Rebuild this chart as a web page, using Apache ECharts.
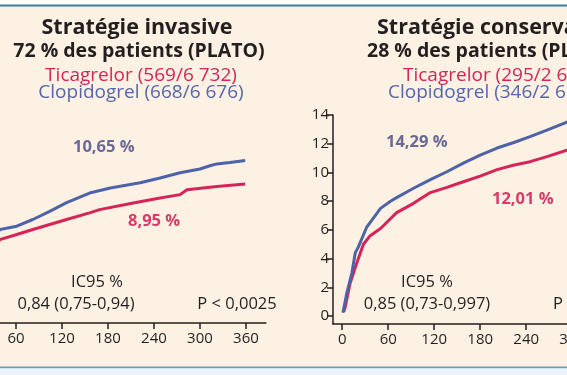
<!DOCTYPE html>
<html>
<head>
<meta charset="utf-8">
<script src="https://cdn.jsdelivr.net/npm/echarts@6/dist/echarts.min.js"></script>
<style>
html,body{margin:0;padding:0;background:#ffffff;}
#c{width:567px;height:375px;}
</style>
</head>
<body>
<div id="c"></div>
<script>
// ---- data ----
const xTicks = [0, 60, 120, 180, 240, 300, 360];
const yTicks = [0, 2, 4, 6, 8, 10, 12, 14];

// Invasive strategy (left panel)
const invClopDays = [0, 3, 7, 14, 21, 30, 39, 61, 82, 104, 126, 156, 183, 222, 248, 274, 300, 313, 322, 339, 359];
const invClopVals = [0, 1.3, 2.5, 3.7, 4.5, 5.3, 5.99, 6.22, 6.69, 7.26, 7.87, 8.54, 8.89, 9.26, 9.59, 9.96, 10.22, 10.45, 10.58, 10.68, 10.81];
const invTicaDays = [0, 3, 7, 14, 21, 30, 39, 61, 82, 104, 126, 156, 169, 213, 248, 274, 283, 322, 359];
const invTicaVals = [0, 1.1, 2.1, 3.1, 3.8, 4.6, 5.29, 5.64, 5.99, 6.34, 6.69, 7.15, 7.38, 7.85, 8.2, 8.43, 8.77, 9.0, 9.17];

// Conservative strategy (right panel)
const conClopDays = [1, 6, 12.6, 17, 21, 32, 50, 63, 71, 93, 115, 136.5, 158, 180, 202, 223, 245, 267, 293, 330, 360];
const conClopVals = [0.23, 1.6, 3.0, 4.4, 4.8, 6.2, 7.5, 8.0, 8.25, 8.9, 9.5, 10.05, 10.65, 11.2, 11.7, 12.07, 12.5, 12.95, 13.5, 13.9, 14.29];
const conTicaDays = [2, 4, 10.4, 19, 21, 27.7, 36.5, 50, 71, 93, 115, 136.5, 158, 180, 202, 223, 245, 267, 293, 330, 360];
const conTicaVals = [0.3, 0.65, 2.3, 3.7, 4.0, 5.0, 5.6, 6.1, 7.2, 7.85, 8.6, 8.96, 9.35, 9.75, 10.2, 10.5, 10.75, 11.1, 11.55, 11.8, 12.01];

// texts
const leftTitle = ['Stratégie invasive', '72 % des patients (PLATO)'];
const leftLegend = ['Ticagrelor (569/6 732)', 'Clopidogrel (668/6 676)'];
const rightTitle = ['Stratégie conservatrice', '28 % des patients (PLATO)'];
const rightLegend = ['Ticagrelor (295/2 601)', 'Clopidogrel (346/2 615)'];
const leftEnd = ['10,65 %', '8,95 %'];
const rightEnd = ['14,29 %', '12,01 %'];
const leftStats = ['IC95 %', '0,84 (0,75-0,94)', 'P < 0,0025'];
const rightStats = ['IC95 %', '0,85 (0,73-0,997)', 'P = 0,04'];

// ---- styles ----
const RED = '#d6245a';
const BLUE = '#4e62a8';
const DARK = '#231f20';
const FONT = '"Open Sans", "Noto Sans", sans-serif';

function pairs(d, v) { return d.map((x, i) => [x, v[i]]); }

function txt(x, y, text, size, color, weight, align) {
  return {
    type: 'text', x: x, y: y, z: 10,
    style: {
      text: text, fill: color,
      font: (weight || 'normal') + ' ' + size + 'px ' + FONT,
      textAlign: align || 'center', textVerticalAlign: 'middle',
      align: align || 'center', verticalAlign: 'middle'
    }
  };
}

function xAxisFor(gi, max) {
  return {
    type: 'value', gridIndex: gi, min: -12, max: max,
    axisLine: { show: true, onZero: false, lineStyle: { color: DARK, width: 1.5 } },
    axisTick: { show: true, customValues: xTicks, length: 6, lineStyle: { color: DARK, width: 1.5 } },
    axisLabel: { customValues: xTicks, color: DARK, fontSize: 15, fontFamily: FONT, margin: 8 },
    splitLine: { show: false }
  };
}
function yAxisFor(gi, show) {
  return {
    type: 'value', gridIndex: gi, min: -0.55, max: 14, show: show,
    axisLine: { show: true, onZero: false, lineStyle: { color: DARK, width: 1.5 } },
    axisTick: { show: true, customValues: yTicks, length: 6, lineStyle: { color: DARK, width: 1.5 } },
    axisLabel: { customValues: yTicks, color: DARK, fontSize: 15, fontFamily: FONT, margin: 4 },
    splitLine: { show: false }
  };
}
function lineSeries(xi, data, color) {
  return {
    type: 'line', xAxisIndex: xi, yAxisIndex: xi, data: data,
    showSymbol: false, symbol: 'none', smooth: false, silent: true,
    lineStyle: { color: color, width: 3 }
  };
}

const chart = echarts.init(document.getElementById('c'), null, { renderer: 'canvas' });
chart.setOption({
  animation: false,
  backgroundColor: '#ffffff',
  grid: [
    { left: -39.2, right: 301.1, top: 115, height: 208, outerBoundsMode: 'none', containLabel: false },
    { left: 333, right: -81.9, top: 115, height: 209, outerBoundsMode: 'none', containLabel: false }
  ],
  xAxis: [xAxisFor(0, 386), xAxisFor(1, 400)],
  yAxis: [yAxisFor(0, false), yAxisFor(1, true)],
  series: [
    lineSeries(0, pairs(invTicaDays, invTicaVals), RED),
    lineSeries(0, pairs(invClopDays, invClopVals), BLUE),
    lineSeries(1, pairs(conTicaDays, conTicaVals), RED),
    lineSeries(1, pairs(conClopDays, conClopVals), BLUE)
  ],
  graphic: [
    { type: 'rect', z: -10, shape: { x: 0, y: 6, width: 567, height: 361 }, style: { fill: '#fcf1e3' } },
    { type: 'rect', z: -5, shape: { x: 0, y: 4.5, width: 567, height: 2 }, style: { fill: '#3e7f96' } },
    { type: 'rect', z: -5, shape: { x: 0, y: 366.5, width: 567, height: 2 }, style: { fill: '#6c9ec0' } },
    { type: 'rect', z: -5, shape: { x: 0, y: 368.5, width: 567, height: 7 }, style: { fill: '#eaf3f9' } },

    txt(137, 28, leftTitle[0], 21.5, DARK, 'bold'),
    txt(139, 51, leftTitle[1], 19.5, DARK, 'bold'),
    txt(141, 76, leftLegend[0], 19, RED),
    txt(141, 93, leftLegend[1], 19, '#5566a8'),

    txt(377, 28, rightTitle[0], 21.5, DARK, 'bold', 'left'),
    txt(367, 51, rightTitle[1], 19.5, DARK, 'bold', 'left'),
    txt(403, 76, rightLegend[0], 19, RED, 'normal', 'left'),
    txt(388, 93, rightLegend[1], 19, '#5566a8', 'normal', 'left'),

    txt(73, 147, leftEnd[0], 16.5, '#6a6896', 'bold', 'left'),
    txt(128, 221, leftEnd[1], 16.5, '#d93a6a', 'bold', 'left'),
    txt(386, 142, rightEnd[0], 16.5, '#6a6896', 'bold', 'left'),
    txt(492, 199, rightEnd[1], 16.5, '#d93a6a', 'bold', 'left'),

    txt(97, 282, leftStats[0], 16.5, DARK),
    txt(76, 304, leftStats[1], 16.5, DARK),
    txt(237, 304, leftStats[2], 16.5, DARK),
    txt(427, 282, rightStats[0], 16.5, DARK),
    txt(427, 304, rightStats[1], 16.5, DARK),
    txt(553, 304, rightStats[2], 16.5, DARK, 'normal', 'left')
  ]
});
</script>
</body>
</html>
